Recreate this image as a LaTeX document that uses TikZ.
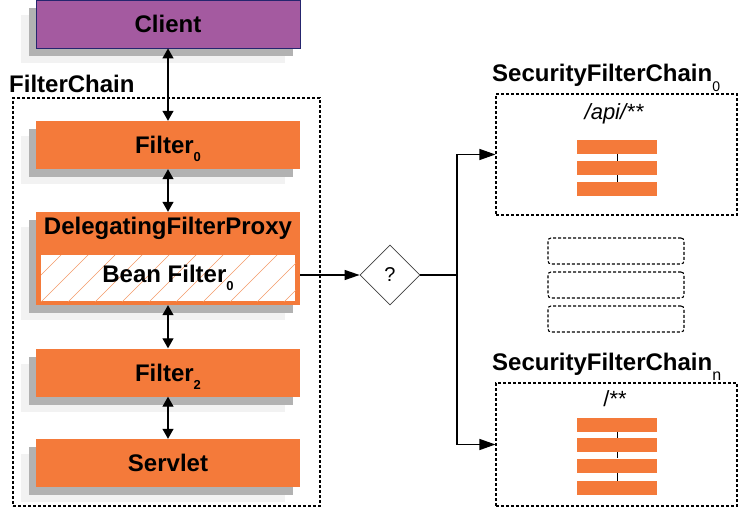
\documentclass[tikz,border=0pt]{standalone}
\usepackage{fontspec}
\setmainfont{Liberation Sans}
\usetikzlibrary{shapes.geometric,arrows.meta,shadows}
\definecolor{sorange}{HTML}{F47A3A}
\definecolor{spurple}{HTML}{A45AA0}
\definecolor{snavy}{HTML}{25256E}
\definecolor{shatch}{HTML}{F49A68}
\newcommand\bigf{\fontsize{24}{28}\selectfont\bfseries}
\newcommand\subsc[2][-8pt]{\smash{\raisebox{#1}{\fontsize{13}{13}\selectfont #2}}}
\tikzset{
  obox/.style={rectangle, minimum width=264pt, minimum height=48pt, inner sep=0pt,
    fill=sorange, text height=17pt, text depth=0pt,
    general shadow={fill=black!5, shadow xshift=-15pt, shadow yshift=-15pt},
    general shadow={fill=black!30, shadow xshift=-7pt, shadow yshift=-8pt}},
  dbox/.style={rectangle, draw, line width=1.1pt, dash pattern=on 3pt off 2pt, inner sep=0pt},
  bar/.style={rectangle, fill=sorange, minimum width=80pt, minimum height=14pt, inner sep=0pt},
  darr/.style={line width=1.2pt, {Triangle[length=10pt,width=11pt]}-{Triangle[length=10pt,width=11pt]}},
  rarr/.style={line width=1.2pt, -{Triangle[length=16pt,width=11pt]}},
  plain/.style={line width=1.2pt}
}
\begin{document}
\begin{tikzpicture}[x=1pt,y=-1pt]
\useasboundingbox (0,0) rectangle (741,508);
% FilterChain container
\node[dbox, minimum width=307pt, minimum height=408pt] (fc) at (166.5,302) {};
\node[anchor=base west, inner sep=0pt] (fclabel) at (9,93) {\bigf FilterChain};
% left boxes
\node[obox, fill=spurple, draw=snavy, line width=0.8pt] (client) at (168,24) {\bigf Client};
\node[obox] (filter0) at (168,145) {\bigf Filter\subsc{0}};
\node[obox, minimum height=93pt] (dfp) at (168,258.5) {};
\node[anchor=base, inner sep=0pt] (dfptext) at (168,234) {\bigf DelegatingFilterProxy};
\node[rectangle, fill=white, draw=sorange, line width=1.5pt, minimum width=255pt, minimum height=47pt, inner sep=0pt] (bean) at (168,278) {};
\begin{scope}
  \clip (bean.south west) rectangle (bean.north east);
  \foreach \i in {-2,...,10}{\draw[shatch, line width=0.6pt] (\i*27+14,302) -- ++(50,-50);}
\end{scope}
\draw[sorange, line width=1.5pt] (bean.south west) rectangle (bean.north east);
\node[anchor=base, inner sep=0pt] (beantext) at (168,282) {\bigf Bean Filter\subsc{0}};
\node[obox] (filter2) at (168,372.5) {\bigf Filter\subsc{2}};
\node[obox] (servlet) at (168,463) {\bigf Servlet};
% vertical connectors
\draw[darr] (client.south) -- (filter0.north);
\draw[darr] (filter0.south) -- (dfp.north);
\draw[darr] (dfp.south) -- (filter2.north);
\draw[darr] (filter2.south) -- (servlet.north);
% decision
\node[diamond, draw=black!75, line width=0.8pt, minimum width=60pt, minimum height=60pt, inner sep=0pt] (dec) at (390,275) {\fontsize{20}{24}\selectfont ?};
\draw[line width=1.2pt, -{Triangle[length=15pt,width=10pt]}] (dfp.east |- dec.west) -- (dec.west);
\coordinate (split) at (457,275);
% security filter chains
\node[dbox, minimum width=241pt, minimum height=121pt] (sfc0) at (616.5,154.5) {};
\node[anchor=base west, inner sep=0pt] (sfc0label) at (492,82) {\bigf SecurityFilterChain\subsc[-10pt]{\mdseries\fontsize{14}{14}\selectfont 0}};
\node[anchor=base, inner sep=0pt] (api) at (614,120) {\fontsize{22}{26}\selectfont\itshape /api/**};
\node[bar] (a1) at (617,147) {};
\node[bar] (a2) at (617,168) {};
\node[bar] (a3) at (617,189) {};
\draw[line width=0.8pt] (a1.south) -- (a2.north);
\draw[line width=0.8pt] (a2.south) -- (a3.north);
\node[dbox, rounded corners=3pt, minimum width=136pt, minimum height=26pt] (d1) at (616,251) {};
\node[dbox, rounded corners=3pt, minimum width=136pt, minimum height=26pt] (d2) at (616,285) {};
\node[dbox, rounded corners=3pt, minimum width=136pt, minimum height=26pt] (d3) at (616,319) {};
\node[dbox, minimum width=241pt, minimum height=123pt] (sfcn) at (616.5,444.5) {};
\node[anchor=base west, inner sep=0pt] (sfcnlabel) at (492,370) {\bigf SecurityFilterChain\subsc[-10pt]{\mdseries\fontsize{16}{16}\selectfont n}};
\node[anchor=base, inner sep=0pt] (all) at (615,406) {\fontsize{22}{26}\selectfont /**};
\node[bar] (n1) at (617,424.5) {};
\node[bar] (n2) at (617,445) {};
\node[bar] (n3) at (617,465.5) {};
\node[bar] (n4) at (617,488) {};
\draw[line width=0.8pt] (n1.south) -- (n2.north);
\draw[line width=0.8pt] (n2.south) -- (n3.north);
\draw[line width=0.8pt] (n3.south) -- (n4.north);
% routing
\draw[plain] (dec.east) -- (split);
\draw[rarr] (split) |- (sfc0.west);
\draw[rarr] (split) |- (sfcn.west);
\end{tikzpicture}
\end{document}
